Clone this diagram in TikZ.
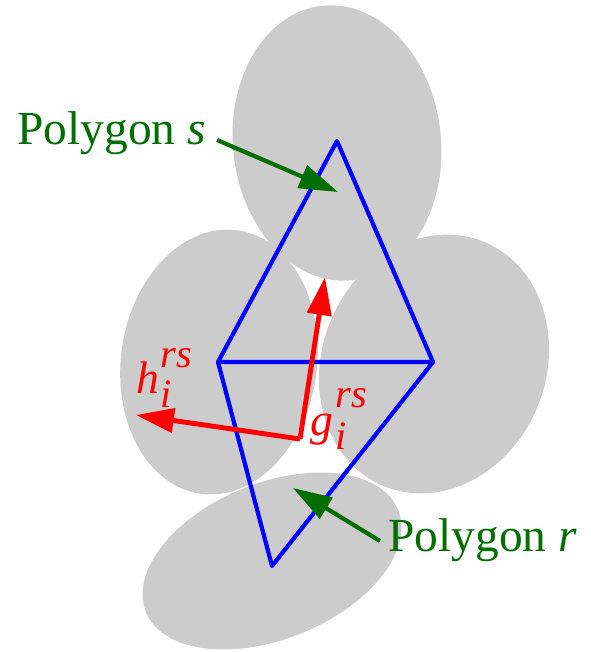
\documentclass[tikz,border=0pt]{standalone}
\usepackage{fontspec}
\setmainfont{Liberation Serif}
\usetikzlibrary{arrows.meta}
\definecolor{blobgray}{RGB}{204,204,204}
\definecolor{labelgreen}{RGB}{0,110,0}
% letter, raise of rs, drop of i, gap
\newcommand{\rsvec}[4]{\textit{#1}\hspace{#4}{\fontsize{23}{26}\selectfont
  \rlap{\raisebox{-#3}{\textit{i}}}\raisebox{#2}{\textit{rs}}}}
\begin{document}
\begin{tikzpicture}[x=0.02cm, y=0.02cm,
  blob/.style={fill=blobgray, draw=none},
  edge/.style={blue, line width=2.4pt, line join=round},
  normal/.style={red, line width=2.8pt, -{Triangle[length=0.76cm, width=0.48cm]}},
  pointer/.style={labelgreen, line width=2.4pt, -{Triangle[length=0.78cm, width=0.48cm]}},
  lbl/.style={font=\fontsize{27}{32}\selectfont, inner sep=0pt},
  vlbl/.style={red, font=\fontsize{26}{30}\selectfont, inner sep=0pt, anchor=base west}]
  \useasboundingbox (0,0) rectangle (591,-652);
  % Gray regions around the polygons
  \fill[blob, rotate around={6:(337,-143)}] (337,-143) ellipse (104 and 138);
  \fill[blob, rotate around={-8:(219,-362)}] (219,-362) ellipse (98 and 133);
  \fill[blob, rotate around={-22:(434,-364)}] (434,-364) ellipse (112 and 132);
  \fill[blob, rotate around={22:(272,-561)}] (272,-561) ellipse (136 and 78);

  % Triangles s and r
  \coordinate (T) at (337,-141);
  \coordinate (L) at (218,-362);
  \coordinate (R) at (433,-362);
  \coordinate (D) at (272,-566);
  \draw[edge] (L) -- (T) -- (R) -- cycle;
  \draw[edge] (L) -- (D) -- (R);

  % Vectors g and h
  \coordinate (O) at (300,-439);
  \coordinate (G) at (325,-277);
  \coordinate (H) at (136,-415);
  \draw[normal] (O) -- (G);
  \draw[normal] (O) -- (H);
  \node[vlbl] (hlabel) at (136,-393) {\rsvec{h}{14.7pt}{8.5pt}{1pt}};
  \node[vlbl] (glabel) at (310,-435) {\rsvec{g}{15.9pt}{8.5pt}{1.5pt}};

  % Labels
  \node[lbl, labelgreen, anchor=base west] (polys) at (17,-144) {Polygon \textit{s}};
  \node[lbl, labelgreen, anchor=base west] (polyr) at (388,-551) {Polygon \textit{r}};
  \coordinate (stail) at (217,-140);
  \coordinate (stip) at (338,-192);
  \coordinate (rtail) at (380,-541);
  \coordinate (rtip) at (293,-488);
  \draw[pointer] (stail) -- (stip);
  \draw[pointer] (rtail) -- (rtip);
\end{tikzpicture}
\end{document}
